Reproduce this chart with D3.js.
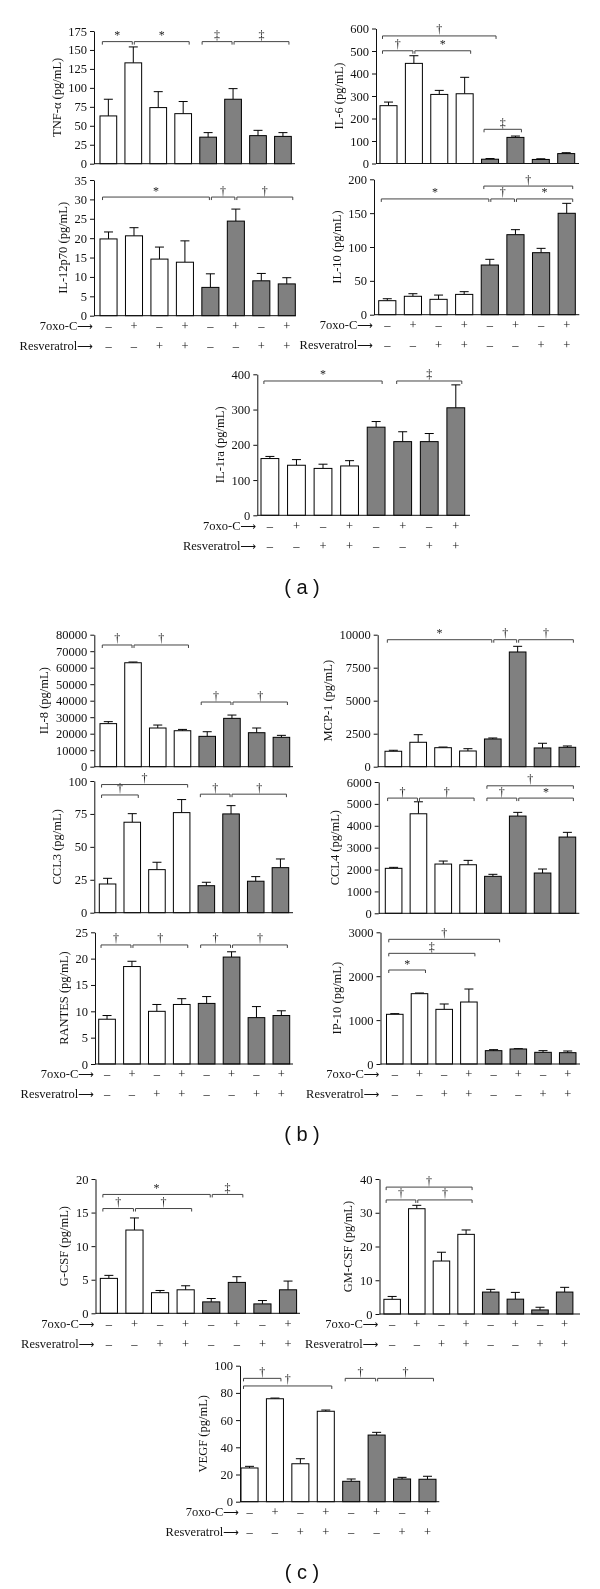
<!DOCTYPE html>
<html><head><meta charset="utf-8">
<script src="https://cdn.jsdelivr.net/npm/d3@7"></script>
<style>
body{margin:0;background:#fff;}
svg{display:block;will-change:transform;transform:translateZ(0);}
</style></head><body>
<svg id="fig" width="600" height="1589"></svg>
<script>
// ---------- DATA ----------
const conditions = ["C1","C2","C3","C4","C5","C6","C7","C8"];
const oxoSigns  = ["–","+","–","+","–","+","–","+"];
const resvSigns = ["–","–","+","+","–","–","+","+"];
const rowLabels = ["7oxo-C", "Resveratrol"];
const panelLabels = ["( a )", "( b )", "( c )"];

const tnfMean = [63, 133, 74, 66, 35, 85, 37, 36];
const tnfErr  = [22, 21, 21, 16, 6, 14, 7, 5];
const tnfTicks = [0,25,50,75,100,125,150,175];
const tnfBr = [[0,1,161,"*"],[1,3,161,"*"],[4,5,161,"‡"],[5,7,161,"‡"]];

const il6Mean = [257, 445, 307, 310, 19, 116, 18, 44];
const il6Err  = [16, 34, 18, 73, 3, 6, 3, 4];
const il6Ticks = [0,100,200,300,400,500,600];
const il6Br = [[0,4,567,"†"],[0,1,501,"†"],[1,3,501,"*"],[4,5,152,"‡"]];

const il12Mean = [19.8, 20.6, 14.6, 13.8, 7.3, 24.4, 9.0, 8.2];
const il12Err  = [1.8, 2.1, 3.1, 5.5, 3.5, 3.1, 1.9, 1.6];
const il12Ticks = [0,5,10,15,20,25,30,35];
const il12Br = [[0,4,30.6,"*"],[4,5,30.6,"†"],[5,7,30.6,"†"]];

const il10Mean = [20.7, 27.2, 22.7, 30, 73.4, 118.2, 91.6, 149.8];
const il10Err  = [2.9, 3.8, 6.3, 4, 8.4, 7.4, 6.4, 14.7];
const il10Ticks = [0,50,100,150,200];
const il10Br = [[0,4,171,"*"],[4,5,171,"†"],[5,7,171,"*"],[4,7,190,"†"]];

const il1raMean = [161, 142, 133, 140, 250, 209, 209, 305];
const il1raErr  = [6, 16, 12, 15, 16, 28, 23, 65];
const il1raTicks = [0,100,200,300,400];
const il1raBr = [[0,4,381,"*"],[5,7,381,"‡"]];

const il8Mean = [26100, 63000, 23450, 21800, 18400, 29300, 20600, 17800];
const il8Err  = [1200, 450, 1800, 800, 2800, 2000, 2850, 1200];
const il8Ticks = [0,10000,20000,30000,40000,50000,60000,70000,80000];
const il8Br = [[0,1,73760,"†"],[1,3,73760,"†"],[4,5,39200,"†"],[5,7,39200,"†"]];

const mcp1Mean = [1170, 1850, 1440, 1190, 2100, 8690, 1420, 1470];
const mcp1Err  = [75, 575, 50, 175, 75, 430, 355, 100];
const mcp1Ticks = [0,2500,5000,7500,10000];
const mcp1Br = [[0,4,9620,"*"],[4,5,9620,"†"],[5,7,9620,"†"]];

const ccl3Mean = [21.8, 68.7, 32.7, 76, 20.5, 75, 23.9, 34.2];
const ccl3Err  = [4.3, 6.5, 5.6, 9.9, 2.6, 6.3, 3.5, 6.6];
const ccl3Ticks = [0,25,50,75,100];
const ccl3Br = [[0,1,89.4,"†"],[0,3,97.3,"†"],[4,5,90,"†"],[5,7,90,"†"]];

const ccl4Mean = [2055, 4548, 2251, 2219, 1689, 4443, 1840, 3484];
const ccl4Err  = [45, 548, 137, 200, 92, 169, 183, 215];
const ccl4Ticks = [0,1000,2000,3000,4000,5000,6000];
const ccl4Br = [[0,1,5265,"†"],[1,3,5265,"†"],[4,5,5265,"†"],[5,7,5265,"*"],[4,7,5826,"†"]];

const rantesMean = [8.5, 18.5, 10.0, 11.3, 11.5, 20.3, 8.8, 9.2];
const rantesErr  = [0.7, 1.0, 1.3, 1.1, 1.3, 1.0, 2.1, 0.9];
const rantesTicks = [0,5,10,15,20,25];
const rantesBr = [[0,1,22.6,"†"],[1,3,22.6,"†"],[4,5,22.6,"†"],[5,7,22.6,"†"]];

const ip10Mean = [1132, 1602, 1245, 1412, 304, 342, 266, 258];
const ip10Err  = [15, 15, 122, 296, 23, 7, 38, 38];
const ip10Ticks = [0,1000,2000,3000];
const ip10Br = [[0,4,2840,"†"],[0,3,2521,"‡"],[0,1,2141,"*"]];

const gcsfMean = [5.2, 12.4, 3.07, 3.5, 1.7, 4.6, 1.4, 3.5];
const gcsfErr  = [0.45, 1.8, 0.33, 0.6, 0.5, 0.85, 0.5, 1.3];
const gcsfTicks = [0,5,10,15,20];
const gcsfBr = [[0,4,17.7,"*"],[4,5,17.7,"‡"],[0,1,15.6,"†"],[1,3,15.6,"†"]];

const gmcsfMean = [4.35, 31.2, 15.7, 23.6, 6.5, 4.4, 1.2, 6.5];
const gmcsfErr  = [0.85, 1.0, 2.6, 1.3, 0.8, 2.0, 0.8, 1.4];
const gmcsfTicks = [0,10,20,30,40];
const gmcsfBr = [[0,3,37.6,"†"],[0,1,33.8,"†"],[1,3,33.8,"†"]];

const vegfMean = [24.8, 75.7, 27.9, 66.5, 15, 49, 16.7, 16.5];
const vegfErr  = [1.2, 0.5, 3.7, 0.9, 1.7, 2.0, 1.2, 2.2];
const vegfTicks = [0,20,40,60,80,100];
const vegfBr = [[0,1,90.7,"†"],[0,3,85.1,"†"],[4,5,90.7,"†"],[5,7,90.7,"†"]];

// ---------- LAYOUT (pixels) ----------
const panels = [
 {t:"TNF-α (pg/mL)",  m:tnfMean,  e:tnfErr,  k:tnfTicks,  b:tnfBr,  L:{x0:94,  x1:295,  b0:100,  b1:291.3, yt:31,    yb:163.7, xl:false}},
 {t:"IL-6 (pg/mL)",   m:il6Mean,  e:il6Err,  k:il6Ticks,  b:il6Br,  L:{x0:376, x1:579,  b0:380,  b1:574.7, yt:28.5,  yb:163.5, xl:false}},
 {t:"IL-12p70 (pg/mL)",m:il12Mean,e:il12Err, k:il12Ticks, b:il12Br, L:{x0:94,  x1:296,  b0:100,  b1:295.3, yt:180,   yb:315.7, xl:true}},
 {t:"IL-10 (pg/mL)",  m:il10Mean, e:il10Err, k:il10Ticks, b:il10Br, L:{x0:374, x1:579.3,b0:378.7,b1:575.3, yt:179.3, yb:314.7, xl:true}},
 {t:"IL-1ra (pg/mL)", m:il1raMean,e:il1raErr,k:il1raTicks,b:il1raBr,L:{x0:257.3,x1:470,  b0:261,  b1:464.7, yt:374.3, yb:515.3, xl:true}},
 {t:"IL-8 (pg/mL)",   m:il8Mean,  e:il8Err,  k:il8Ticks,  b:il8Br,  L:{x0:94.3, x1:293,  b0:100,  b1:289.7, yt:634.7, yb:766.7, xl:false}},
 {t:"MCP-1 (pg/mL)",  m:mcp1Mean, e:mcp1Err, k:mcp1Ticks, b:mcp1Br, L:{x0:377.7,x1:580,  b0:385,  b1:575.7, yt:634.7, yb:766.7, xl:false}},
 {t:"CCL3 (pg/mL)",   m:ccl3Mean, e:ccl3Err, k:ccl3Ticks, b:ccl3Br, L:{x0:94.3, x1:293,  b0:99.3, b1:288.7, yt:781,   yb:912.7, xl:false}},
 {t:"CCL4 (pg/mL)",   m:ccl4Mean, e:ccl4Err, k:ccl4Ticks, b:ccl4Br, L:{x0:378.7,x1:579.3,b0:385.3,b1:575.7, yt:782,   yb:913.3, xl:false}},
 {t:"RANTES (pg/mL)", m:rantesMean,e:rantesErr,k:rantesTicks,b:rantesBr,L:{x0:95,x1:293,b0:98.7,b1:289.7,yt:932.3,yb:1064,xl:true}},
 {t:"IP-10 (pg/mL)",  m:ip10Mean, e:ip10Err, k:ip10Ticks, b:ip10Br, L:{x0:380.5,x1:580,  b0:386.5,b1:576,   yt:932.3, yb:1064,  xl:true}},
 {t:"G-CSF (pg/mL)",  m:gcsfMean, e:gcsfErr, k:gcsfTicks, b:gcsfBr, L:{x0:95.5, x1:300,  b0:100.3,b1:296.6, yt:1179,  yb:1313.3,xl:true}},
 {t:"GM-CSF (pg/mL)", m:gmcsfMean,e:gmcsfErr,k:gmcsfTicks,b:gmcsfBr,L:{x0:379.5,x1:580,  b0:383.9,b1:572.9, yt:1179,  yb:1314,  xl:true}},
 {t:"VEGF (pg/mL)",   m:vegfMean, e:vegfErr, k:vegfTicks, b:vegfBr, L:{x0:240,  x1:439.3,b0:241,  b1:436,   yt:1365.7,yb:1501.7,xl:true}}
];
const panelLabelPos = [[302,586.7],[302,1134],[302,1571.7]];

const serif = "'Liberation Serif','Times New Roman',serif";
const sans = "'Liberation Sans',Arial,sans-serif";
const grayFill = "#808080";
const ink = "#111";
const svg = d3.select("#fig");

function drawPanel(p) {
  const L = p.L;
  const g = svg.append("g");
  const x = d3.scaleBand().domain(d3.range(conditions.length)).range([L.b0, L.b1]).paddingInner(0.33).paddingOuter(0);
  const y = d3.scaleLinear().domain([0, p.k[p.k.length-1]]).range([L.yb, L.yt]);
  const bw = x.bandwidth();
  const cx = i => x(i) + bw/2;

  // error bars (upper only)
  const eg = g.append("g").attr("stroke","#000").attr("stroke-width",1);
  p.m.forEach((v,i) => {
    const top = y(v + p.e[i]);
    eg.append("line").attr("x1",cx(i)).attr("x2",cx(i)).attr("y1",y(v)).attr("y2",top);
    eg.append("line").attr("x1",cx(i)-4.5).attr("x2",cx(i)+4.5).attr("y1",top).attr("y2",top);
  });
  // bars
  g.selectAll("rect.bar").data(p.m).join("rect").attr("class","bar")
    .attr("x",(d,i)=>x(i)).attr("y",d=>y(d)).attr("width",bw).attr("height",d=>L.yb - y(d))
    .attr("fill",(d,i)=> i<4 ? "#fff" : grayFill).attr("stroke","#000").attr("stroke-width",1);

  // y axis
  const ax = d3.axisLeft(y).tickValues(p.k).tickSize(4).tickSizeOuter(0).tickPadding(3).tickFormat(d3.format("d"));
  const ag = g.append("g").attr("transform",`translate(${L.x0},0)`).call(ax);
  ag.select(".domain").attr("stroke",ink);
  ag.selectAll(".tick line").attr("stroke",ink);
  ag.selectAll("text").attr("font-family",serif).attr("font-size",12.5).attr("fill",ink);
  // x axis line
  g.append("line").attr("x1",L.x0).attr("x2",L.x1).attr("y1",L.yb).attr("y2",L.yb).attr("stroke",ink);

  // y title
  const bb = ag.node().getBBox();
  const tx = L.x0 + bb.x - 12;
  g.append("text").attr("transform",`translate(${tx},${(L.yt+L.yb)/2}) rotate(-90)`)
    .attr("text-anchor","middle").attr("dy","0.35em")
    .attr("font-family",serif).attr("font-size",12.5).attr("fill",ink).text(p.t);

  // brackets
  const bg = g.append("g");
  p.b.forEach(([i,j,lev,sym]) => {
    const sameLev = p.b.filter(o => o[2] === lev);
    let l = cx(i) - 6, r = cx(j) + 6;
    if (sameLev.some(o => o[1] === i)) l = cx(i) + 1;
    if (sameLev.some(o => o[0] === j)) r = cx(j) - 1;
    const yy = y(lev);
    bg.append("path").attr("d",`M${l},${yy+3}V${yy}H${r}V${yy+3}`)
      .attr("fill","none").attr("stroke","#444").attr("stroke-width",1);
    bg.append("text").attr("x",(l+r)/2).attr("y",yy-2.5).attr("text-anchor","middle")
      .attr("font-family",serif).attr("font-size",12).attr("fill","#222").text(sym);
  });

  // x labels
  if (L.xl) {
    [oxoSigns, resvSigns].forEach((signs,row) => {
      const yy = L.yb + 10 + row*20;
      const lt = g.append("text").attr("x",L.x0 - 1).attr("y",yy).attr("dy","0.35em").attr("text-anchor","end")
        .attr("font-family",serif).attr("font-size",12.5).attr("fill",ink);
      lt.append("tspan").text(rowLabels[row]);
      lt.append("tspan").attr("font-family","'DejaVu Sans',sans-serif").attr("font-size",11).text("⟶");
      signs.forEach((s,i) => {
        g.append("text").attr("x",cx(i)).attr("y",yy).attr("dy","0.35em").attr("text-anchor","middle")
          .attr("font-family",serif).attr("font-size",12.5).attr("fill",ink).text(s);
      });
    });
  }
}
panels.forEach(drawPanel);

panelLabels.forEach((t,i) => {
  svg.append("text").attr("x",panelLabelPos[i][0]).attr("y",panelLabelPos[i][1]).attr("dy","0.35em")
    .attr("text-anchor","middle").attr("font-family",sans).attr("font-size",20).attr("fill",ink)
    .style("white-space","pre").text(t);
});
</script>
</body></html>
